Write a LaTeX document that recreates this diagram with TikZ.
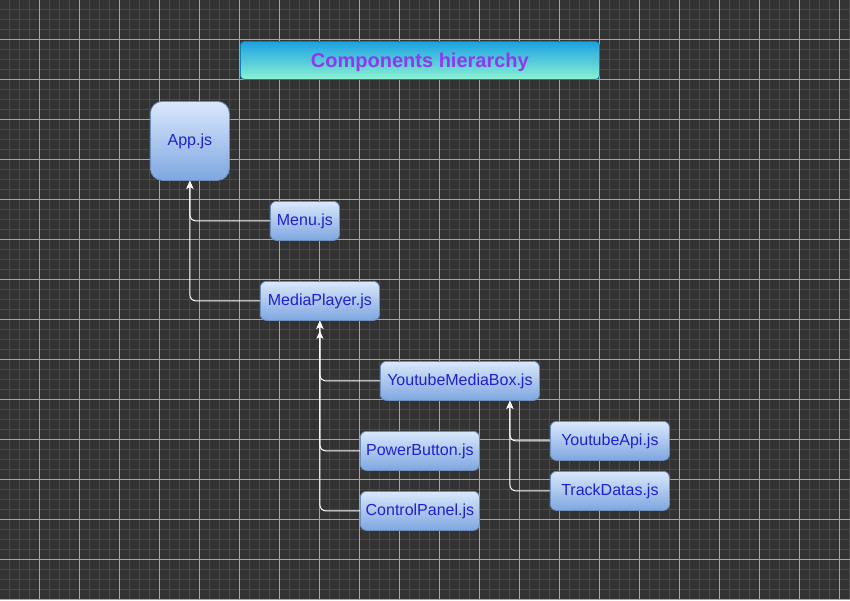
\documentclass[tikz,border=0pt]{standalone}
\usepackage{fontspec}
\setmainfont{Liberation Sans}
\usetikzlibrary{arrows.meta}
\definecolor{bgc}{HTML}{333333}
\definecolor{minorc}{HTML}{4A4A4A}
\definecolor{majorc}{HTML}{A5A5A5}
\definecolor{boxtop}{HTML}{DAE8FC}
\definecolor{boxbot}{HTML}{7EA6E0}
\definecolor{boxline}{HTML}{6C8EBF}
\definecolor{txtc}{HTML}{2020D0}
\definecolor{ttop}{HTML}{1BA1E2}
\definecolor{tbot}{HTML}{8CF2D2}
\definecolor{tline}{HTML}{0E7FB5}
\definecolor{ttxt}{HTML}{9038F0}
\tikzset{
  comp/.style={draw=boxline, line width=0.8pt, top color=boxtop, bottom color=boxbot,
    rounded corners=6pt, text=txtc, font=\fontsize{16}{19}\selectfont, inner sep=0pt,
    anchor=north west},
  titlebox/.style={draw=tline, line width=0.8pt, top color=ttop, bottom color=tbot,
    rounded corners=4pt, text=ttxt, font=\fontsize{20}{24}\selectfont\bfseries, inner sep=0pt,
    anchor=north west, text depth=0pt},
  edge/.style={draw=white, line width=1pt, rounded corners=6pt,
    -{Stealth[length=8pt,width=7pt,inset=2pt]}},
}
\begin{document}
\begin{tikzpicture}[x=1pt,y=-1pt]
\useasboundingbox (0,0) rectangle (850,600);
\fill[bgc] (0,0) rectangle (850,600);
\foreach \i in {0,10,...,850} \draw[minorc, line width=1pt] (\i-0.5,0) -- (\i-0.5,600);
\foreach \j in {0,10,...,600} \draw[minorc, line width=1pt] (0,\j-0.5) -- (850,\j-0.5);
\foreach \i in {0,40,...,850} \draw[majorc, line width=0.8pt] (\i-0.5,0) -- (\i-0.5,600);
\foreach \j in {0,40,...,600} \draw[majorc, line width=0.8pt] (0,\j-0.5) -- (850,\j-0.5);

\node[titlebox, minimum width=359pt, minimum height=38pt] (title) at (240,41) {Components hierarchy};
\node[comp, rounded corners=12pt, minimum width=79pt, minimum height=79pt] (app) at (150,101) {App.js};
\node[comp, minimum width=69pt, minimum height=39pt] (menu) at (270,201) {Menu.js};
\node[comp, minimum width=119pt, minimum height=39pt] (mp) at (260,281) {MediaPlayer.js};
\node[comp, minimum width=159pt, minimum height=39pt] (ymb) at (380,361) {YoutubeMediaBox.js};
\node[comp, minimum width=119pt, minimum height=39pt] (pb) at (360,431) {PowerButton.js};
\node[comp, minimum width=119pt, minimum height=39pt] (cp) at (360,491) {ControlPanel.js};
\node[comp, minimum width=119pt, minimum height=39pt] (yapi) at (550,421) {YoutubeApi.js};
\node[comp, minimum width=119pt, minimum height=39pt] (td) at (550,471) {TrackDatas.js};

\coordinate (mpin) at ([yshift=-10pt]mp.south);
\coordinate (ymbin) at ([xshift=50pt]ymb.south);
\draw[edge] (menu.west) -| (app.south);
\draw[edge] (mp.west) -| (app.south);
\draw[edge] (ymb.west) -| (mpin);
\draw[edge] (pb.west) -| (mp.south);
\draw[edge] (cp.west) -| (mp.south);
\draw[edge] (yapi.west) -| (ymbin);
\draw[edge] (td.west) -| (ymbin);
\end{tikzpicture}
\end{document}
